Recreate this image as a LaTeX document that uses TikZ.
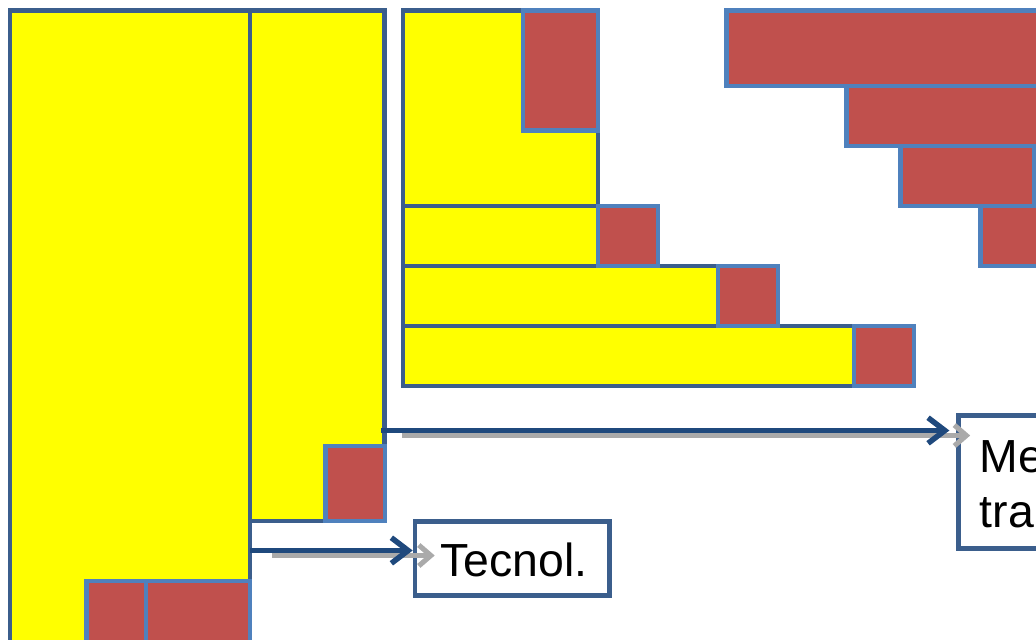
\documentclass[tikz,border=0pt]{standalone}
\usepackage{fontspec}
\setmainfont{Liberation Sans}
\usetikzlibrary{fit,arrows.meta}

\definecolor{yfill}{RGB}{255,255,0}
\definecolor{yline}{RGB}{59,94,140}
\definecolor{rfill}{RGB}{192,80,77}
\definecolor{rline}{RGB}{79,129,189}
\definecolor{arrcol}{RGB}{31,73,125}
\definecolor{shadcol}{RGB}{170,170,170}

\begin{document}
\begin{tikzpicture}[x=0.025cm, y=-0.025cm,
	ybox/.style = {draw=yline, fill=yfill, line width=3.4pt, inner sep=0pt},
	rbox/.style = {draw=rline, fill=rfill, line width=3.4pt, inner sep=0pt},
	lbox/.style = {draw=yline, fill=white, line width=3.3pt, inner sep=0pt},
	lbl/.style = {font=\fontsize{33}{39}\selectfont, inner sep=0pt},
	arr/.style = {draw=arrcol, line width=3.9pt, -{Straight Barb[length=0.42cm, width=0.64cm]}},
	shad/.style = {draw=shadcol, line width=3.6pt, -{Straight Barb[length=0.3cm, width=0.52cm]}}]

	\useasboundingbox (0,0) rectangle (1036,639);

	% yellow blocks
	\node[ybox, fit={(10,10.5) (250,700)}] (colA) {};
	\node[ybox, fit={(250,10.5) (384.5,521)}] (colB) {};
	\node[ybox, fit={(403,10.5) (598,206)}] (blkC) {};
	\node[ybox, fit={(403,206) (598,266)}] (rowA) {};
	\node[ybox, fit={(403,266) (718,326)}] (rowB) {};
	\node[ybox, fit={(403,326) (854,386)}] (rowC) {};

	% red blocks
	\node[rbox, fit={(86.5,581) (146,700)}] (rdA) {};
	\node[rbox, fit={(146,581) (250,700)}] (rdB) {};
	\node[rbox, fit={(325.5,446) (385,521)}] (rdC) {};
	\node[rbox, fit={(523,10.5) (598,130.5)}] (rdD) {};
	\node[rbox, fit={(598,206) (658,266)}] (rdE) {};
	\node[rbox, fit={(718,266) (778,326)}] (rdF) {};
	\node[rbox, fit={(854,326) (914,386)}] (rdG) {};

	\node[rbox, fit={(726.5,10.5) (1100,86)}] (brA) {};
	\node[rbox, fit={(846.5,86) (1100,146)}] (brB) {};
	\node[rbox, fit={(900.5,146) (1034,206)}] (brC) {};
	\node[rbox, fit={(980.5,206) (1100,266)}] (brD) {};

	% labels
	\node[lbox, fit={(415,521.5) (609.5,595.5)}] (tec) {};
	\node[lbl] (tecTxt) at (514,559.5) {Tecnol.};
	\node[lbox, fit={(958.5,415.5) (1150,548.5)}] (mkt) {};
	\node[lbl, align=left, anchor=west] (mktTxt) at (979.5,484) {Me\\tra};

	\coordinate (ar1) at (381,430.5);
	\coordinate (ar2) at (250,550.5);

	\draw[shad, shorten >=0.17cm, transform canvas={xshift=0.52cm, yshift=-0.125cm}] (ar1) -- (ar1 -| mkt.west);
	\draw[shad, transform canvas={xshift=0.55cm, yshift=-0.125cm}] (ar2) -- (ar2 -| tec.west);

	\draw[arr, shorten >=0.17cm] (ar1) -- (ar1 -| mkt.west);
	\draw[arr] (ar2) -- (ar2 -| tec.west);

\end{tikzpicture}
\end{document}
